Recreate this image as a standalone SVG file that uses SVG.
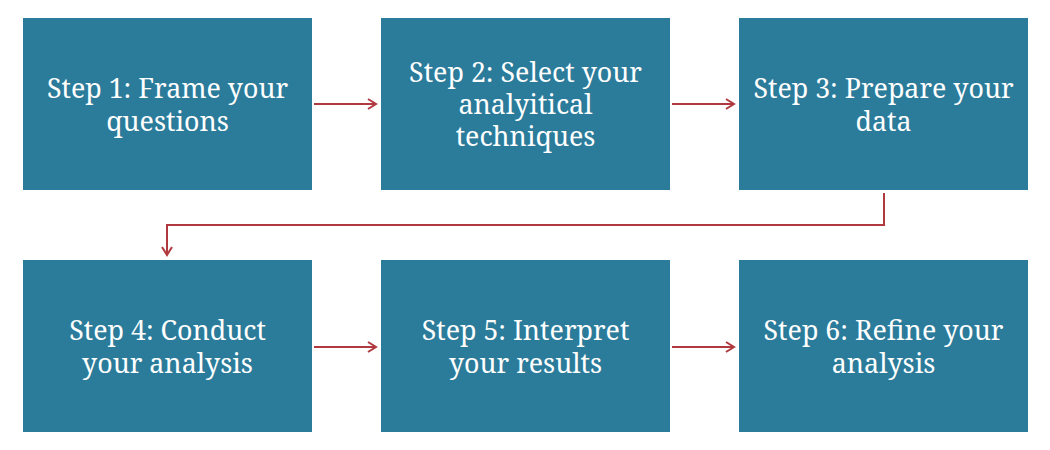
<svg xmlns="http://www.w3.org/2000/svg" width="1050" height="450" viewBox="0 0 1050 450">
<style>
.box{fill:#2b7b9b}
.t{font-family:"Noto Serif","DejaVu Serif","Liberation Serif",serif;font-size:26.8px;fill:#ffffff;text-anchor:middle;dominant-baseline:central}
.c{fill:none;stroke:#b0393f;stroke-width:2}
</style>
<defs>
<marker id="ah" markerWidth="12" markerHeight="12" refX="10" refY="6" orient="auto" markerUnits="userSpaceOnUse">
<path d="M2,1 L10,6 L2,11" fill="none" stroke="#b0393f" stroke-width="2"/>
</marker>
</defs>
<rect width="1050" height="450" fill="#ffffff"/>
<g id="connectors">
<line class="c" x1="314" y1="104" x2="376" y2="104" marker-end="url(#ah)"/>
<line class="c" x1="672" y1="104" x2="734" y2="104" marker-end="url(#ah)"/>
<polyline class="c" points="884,193 884,225 167,225 167,255" marker-end="url(#ah)"/>
<line class="c" x1="314" y1="347" x2="376" y2="347" marker-end="url(#ah)"/>
<line class="c" x1="672" y1="347" x2="734" y2="347" marker-end="url(#ah)"/>
</g>
<g id="step1"><rect class="box" x="23" y="18" width="289" height="172"/><text class="t" x="167.5" y="87">Step 1: Frame your</text><text class="t" x="167.5" y="120">questions</text></g>
<g id="step2"><rect class="box" x="381" y="18" width="289" height="172"/><text class="t" x="525.5" y="71">Step 2: Select your</text><text class="t" x="525.5" y="103">analyitical</text><text class="t" x="525.5" y="135">techniques</text></g>
<g id="step3"><rect class="box" x="739" y="18" width="289" height="172"/><text class="t" x="883.5" y="87">Step 3: Prepare your</text><text class="t" x="883.5" y="120">data</text></g>
<g id="step4"><rect class="box" x="23" y="260" width="289" height="172"/><text class="t" x="167.5" y="329">Step 4: Conduct</text><text class="t" x="167.5" y="362">your analysis</text></g>
<g id="step5"><rect class="box" x="381" y="260" width="289" height="172"/><text class="t" x="525.5" y="329">Step 5: Interpret</text><text class="t" x="525.5" y="362">your results</text></g>
<g id="step6"><rect class="box" x="739" y="260" width="289" height="172"/><text class="t" x="883.5" y="329">Step 6: Refine your</text><text class="t" x="883.5" y="362">analysis</text></g>
</svg>
